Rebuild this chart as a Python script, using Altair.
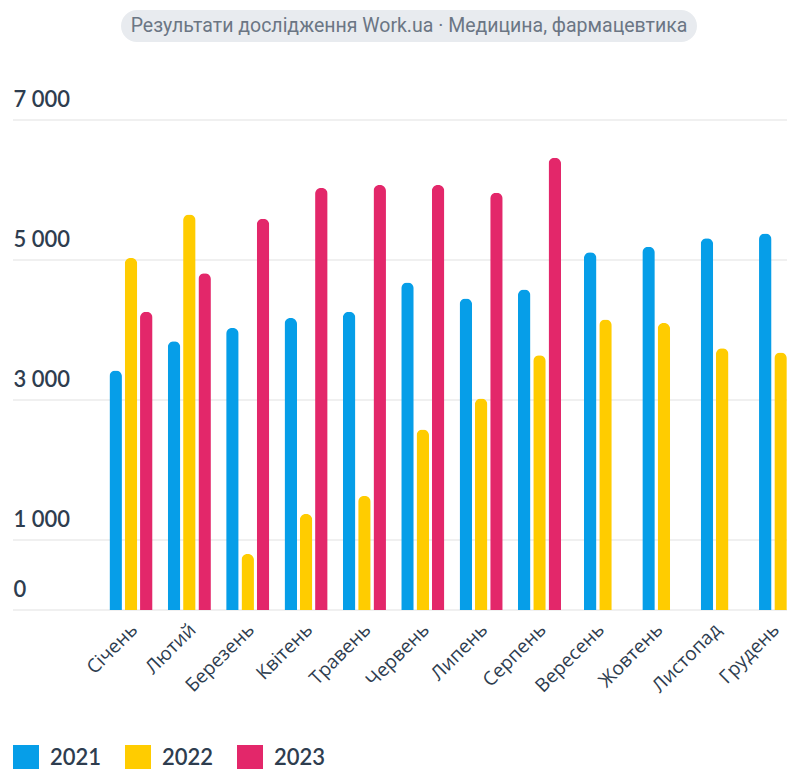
import altair as alt
import pandas as pd

months = ["Січень", "Лютий", "Березень", "Квітень", "Травень", "Червень",
          "Липень", "Серпень", "Вересень", "Жовтень", "Листопад", "Грудень"]
v2021 = [3420, 3840, 4030, 4170, 4260, 4680, 4450, 4580, 5110, 5190, 5310, 5380]
v2022 = [5030, 5650, 800, 1370, 1630, 2580, 3020, 3640, 4150, 4100, 3740, 3680]
v2023 = [4260, 4810, 5590, 6030, 6070, 6070, 5960, 6460, None, None, None, None]
years = ["2021", "2022", "2023"]
colors = ["#069ee8", "#ffcc00", "#e3276a"]
y_ticks = [0, 1000, 3000, 5000, 7000]
title_text = "Результати дослідження Work.ua · Медицина, фармацевтика"

rows = []
for i, m in enumerate(months):
    has3 = v2023[i] is not None
    for yr, vals in zip(years, [v2021, v2022, v2023]):
        v = vals[i]
        if v is None:
            continue
        idx = years.index(yr)
        slot = idx * 2 if has3 else idx * 2 + 1
        rows.append({"month": m, "year": yr, "value": v, "slot": f"s{slot}"})
df = pd.DataFrame(rows)
slot_domain = ["pa", "s0", "s1", "s2", "s3", "s4", "pb"]
grid_df = pd.DataFrame({"value": y_ticks})

FONT = "Lato"
XFONT = "Open Sans"
TEXT = "#2e3d4f"

yscale = alt.Scale(domain=[0, 7000], nice=False)
yaxis = alt.Axis(title=None, values=y_ticks, domain=False, ticks=False,
                 tickSize=0, labelAlign="left", labelBaseline="alphabetic",
                 labelPadding=0, labelOffset=-14, labelFontSize=22,
                 labelFontWeight=600, labelFont=FONT, labelColor=TEXT,
                 labelFlush=False, labelOverlap=False, labelBound=False,
                 grid=False,
                 labelExpr="replace(format(datum.value, ','), ',', ' ')")

grid = alt.Chart(grid_df).mark_rule(color="#ebebeb", strokeWidth=1.5).encode(
    y=alt.Y("value:Q", scale=yscale, axis=yaxis)
)

bars = alt.Chart(df).mark_bar(width=12.5, cornerRadiusEnd=6).encode(
    x=alt.X("month:N", sort=months,
            scale=alt.Scale(range=[88.8, 789.1], paddingInner=0, paddingOuter=0),
            axis=alt.Axis(title=None, domain=False, ticks=False, tickSize=0,
                          labelAngle=-45, labelAlign="right", labelBaseline="top",
                          labelPadding=10, labelOffset=-3, labelFontSize=19,
                          labelFont=XFONT, labelColor=TEXT)),
    xOffset=alt.XOffset("slot:N",
                        scale=alt.Scale(domain=slot_domain,
                                        paddingInner=0, paddingOuter=0.314)),
    y=alt.Y("value:Q", scale=yscale, axis=yaxis),
    color=alt.Color("year:N", scale=alt.Scale(domain=years, range=colors),
                    legend=alt.Legend(title=None, orient="none", direction="horizontal",
                                      legendX=0, legendY=625, symbolType="square",
                                      symbolSize=676, symbolStrokeWidth=0,
                                      labelFontSize=22, labelFontWeight=600,
                                      labelFont=FONT, labelColor=TEXT,
                                      labelOffset=11, columnPadding=23, padding=0)),
)

title_df = pd.DataFrame({"t": [title_text]})
pill = alt.Chart(title_df).mark_rect(cornerRadius=16, color="#e8ebef").encode(
    x=alt.value(108), x2=alt.value(684), y=alt.value(-110), y2=alt.value(-78)
)
pill_text = alt.Chart(title_df).mark_text(
    font="Roboto", fontSize=19.5, color="#6b7684", align="center", baseline="middle"
).encode(x=alt.value(396), y=alt.value(-94), text="t:N")

chart = alt.layer(grid, pill, pill_text, bars).properties(
    width=774, height=490,
    autosize=alt.AutoSizeParams(type="none"),
    padding={"left": 5, "top": 112, "right": 0, "bottom": 165},
).configure_view(stroke=None)

chart.save("out.html", embed_options={"renderer": "svg", "actions": False})
